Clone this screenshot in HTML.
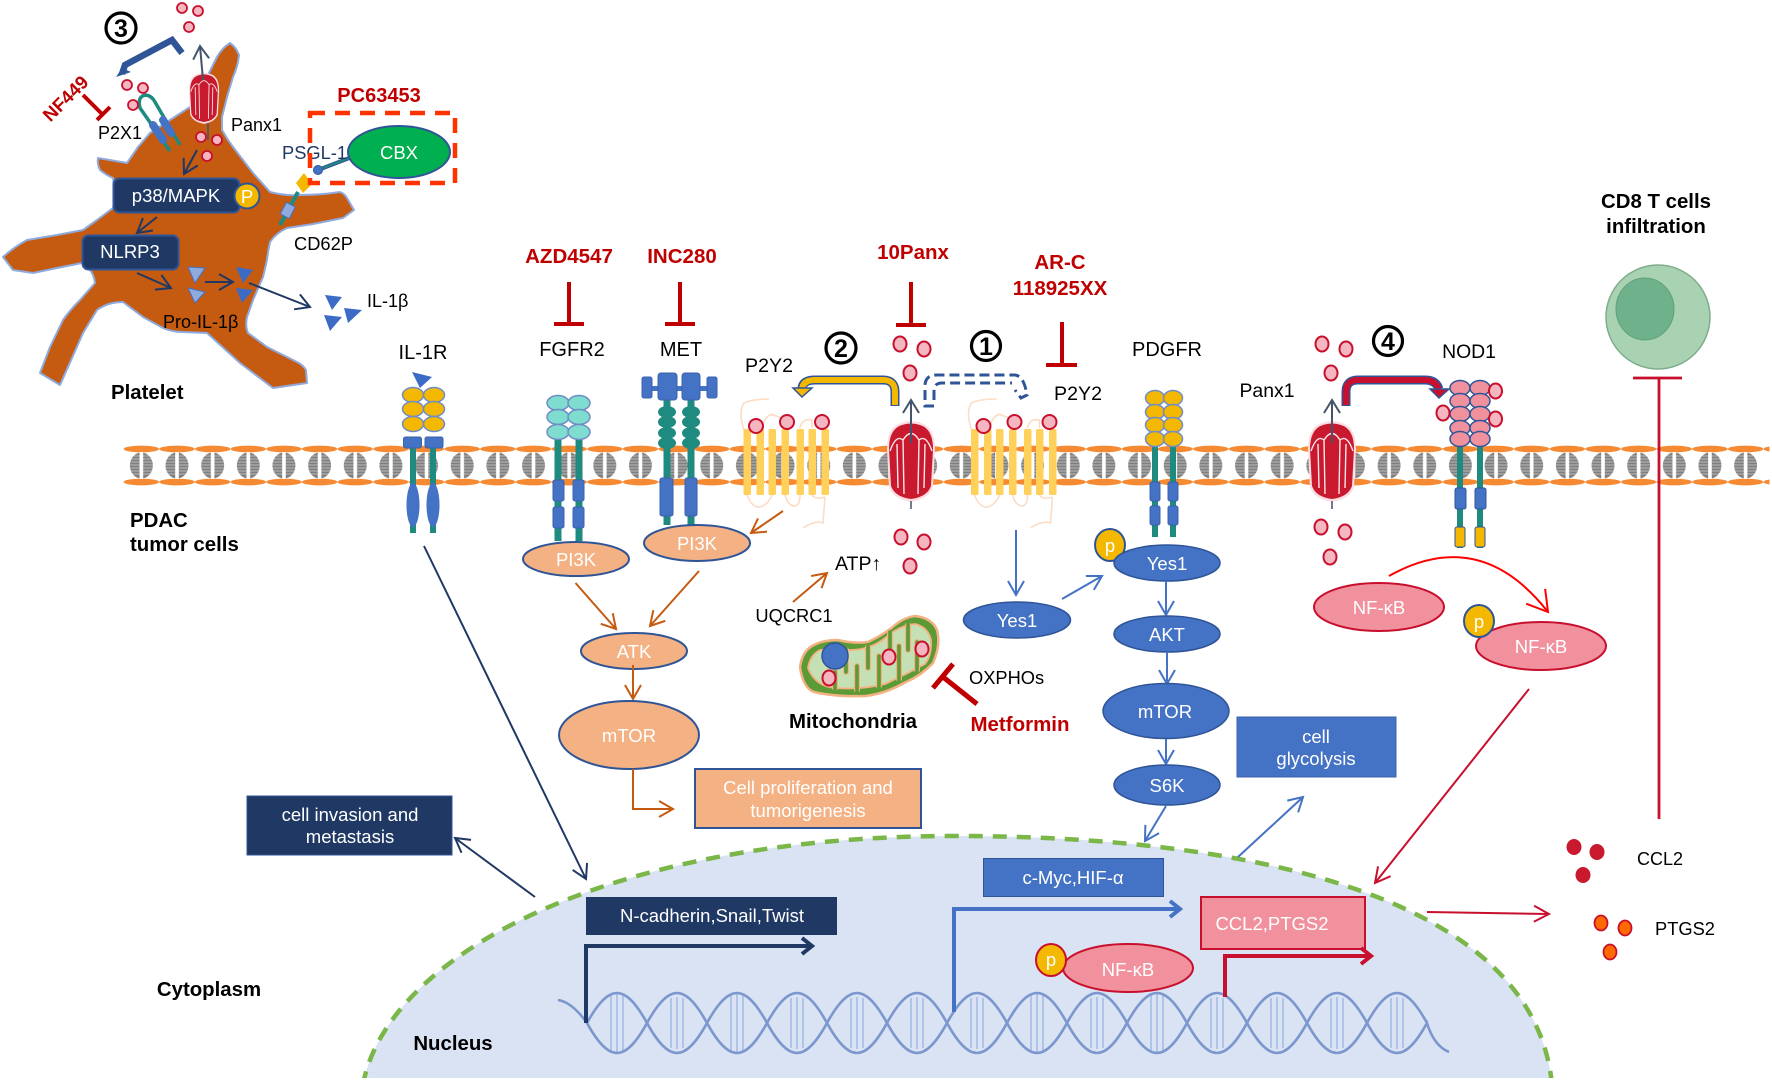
<!DOCTYPE html>
<html lang="en">
<head>
<meta charset="utf-8">
<title>Panx1 signalling in PDAC</title>
<style>
html,body{margin:0;padding:0;background:#fff}
svg{display:block}
text{font-family:"Liberation Sans",Arial,sans-serif;fill:#000}
.l20{font-size:20px}.l18{font-size:18.3px}
.w{fill:#fff;font-size:18.5px;text-anchor:middle}
.c{text-anchor:middle}
.b{font-weight:bold;font-size:20.4px}
.r{fill:#C00000;font-weight:bold;font-size:20.5px;text-anchor:middle}
.d{fill:#F4B6C0;stroke:#C8102E;stroke-width:2}
.ds{fill:#F4B6C0;stroke:#C8102E;stroke-width:1.8}
.be{fill:#4472C4;stroke:#2F5597;stroke-width:1.5}
.pe{fill:#F4B183;stroke:#2F5597;stroke-width:2}
.pi{fill:#F1919E;stroke:#C8102E;stroke-width:2}
.g{fill:#F4B800;stroke:#2F5597;stroke-width:2}
.teal{stroke:#1F8A80;stroke-width:7;fill:none}
.rb{fill:#4472C4;stroke:#3B63AE;stroke-width:1}
.ln{fill:none;stroke-width:2}
.T{fill:none;stroke:#C00000;stroke-width:4}
</style>
</head>
<body>
<svg xmlns="http://www.w3.org/2000/svg" width="1772" height="1080" viewBox="0 0 1772 1080">
<defs>
  <marker id="mn" markerUnits="userSpaceOnUse" viewBox="-20 -15 30 30" markerWidth="30" markerHeight="30" refX="0" refY="0" orient="auto"><path d="M-14,-8L0,0L-14,8" fill="none" stroke="#1F3864" stroke-width="2"/></marker>
  <marker id="mb" markerUnits="userSpaceOnUse" viewBox="-20 -15 30 30" markerWidth="30" markerHeight="30" refX="0" refY="0" orient="auto"><path d="M-14,-8L0,0L-14,8" fill="none" stroke="#4472C4" stroke-width="2"/></marker>
  <marker id="mo" markerUnits="userSpaceOnUse" viewBox="-20 -15 30 30" markerWidth="30" markerHeight="30" refX="0" refY="0" orient="auto"><path d="M-14,-8L0,0L-14,8" fill="none" stroke="#C55A11" stroke-width="2"/></marker>
  <marker id="mr" markerUnits="userSpaceOnUse" viewBox="-20 -15 30 30" markerWidth="30" markerHeight="30" refX="0" refY="0" orient="auto"><path d="M-15,-8L0,0L-15,8" fill="none" stroke="#C8102E" stroke-width="2"/></marker>
  <marker id="mf" markerUnits="userSpaceOnUse" viewBox="-25 -20 40 40" markerWidth="40" markerHeight="40" refX="0" refY="0" orient="auto"><path d="M-20,-12L0,0L-20,12" fill="none" stroke="#FF0000" stroke-width="2"/></marker>
  <marker id="mg" markerUnits="userSpaceOnUse" viewBox="-20 -15 30 30" markerWidth="30" markerHeight="30" refX="0" refY="0" orient="auto"><path d="M-13,-8L0,0L-13,8" fill="none" stroke="#44546A" stroke-width="2"/></marker>
  <marker id="mnt" markerUnits="userSpaceOnUse" viewBox="-20 -15 30 30" markerWidth="30" markerHeight="30" refX="0" refY="0" orient="auto"><path d="M-10,-8L0,0L-10,8" fill="none" stroke="#1F3864" stroke-width="4"/></marker>
  <marker id="mbt" markerUnits="userSpaceOnUse" viewBox="-20 -15 30 30" markerWidth="30" markerHeight="30" refX="0" refY="0" orient="auto"><path d="M-10,-8L0,0L-10,8" fill="none" stroke="#4472C4" stroke-width="4"/></marker>
  <marker id="mrt" markerUnits="userSpaceOnUse" viewBox="-20 -15 30 30" markerWidth="30" markerHeight="30" refX="0" refY="0" orient="auto"><path d="M-10,-8L0,0L-10,8" fill="none" stroke="#C8102E" stroke-width="4"/></marker>

  <pattern id="mem" patternUnits="userSpaceOnUse" x="123.55" y="440" width="35.65" height="50">
    <ellipse cx="17.8" cy="9" rx="17.8" ry="3.4" fill="#F58A33"/>
    <ellipse cx="17.8" cy="42" rx="17.8" ry="3.4" fill="#F58A33"/>
    <ellipse cx="17.8" cy="25.5" rx="11.5" ry="13" fill="#808080"/>
    <rect x="16" y="12" width="3.6" height="27" fill="#fff"/>
    <path d="M4,16H32M4,19H32M4,22H32M4,25H32M4,28H32M4,31H32M4,34H32" stroke="#fff" stroke-width="0.7" opacity="0.6"/>
  </pattern>

  <g id="chan">
    <path d="M-24,-12Q-24,-34 -10,-38Q0,-42 10,-38Q24,-34 24,-12L22,26Q18,38 0,41Q-18,38 -22,26Z" fill="#FBDDE2"/>
    <path d="M-22,-12Q-22,-32 -9,-36Q0,-39 9,-36Q22,-32 22,-12L20,25Q16,36 0,38Q-16,36 -20,25Z" fill="#C8192F"/>
    <path d="M-21,-10Q-15,-27 -8,-21L-7,33M21,-10Q15,-27 8,-21L7,33M-8,-21Q0,-34 8,-21M-14,-17L-13,27M14,-17L13,27" fill="none" stroke="#FBE6E8" stroke-width="1.4"/>
  </g>

  <g id="p2y2">
    <g fill="none" stroke="#FBDCC4" stroke-width="1.6">
      <path d="M769,399Q752,399 744,403Q738,412 744,430"/>
      <path d="M761,428Q768,410 776,416Q785,418 785,428"/>
      <path d="M800,428Q802,418 812,420V428"/>
      <path d="M747,495Q752,508 760,507Q768,505 772,495"/>
      <path d="M785,495Q788,506 795,506Q800,505 800,495"/>
      <path d="M812,495Q815,500 825,497"/>
      <path d="M825,497L823,523Q815,520 803,528"/>
    </g>
    <g fill="#FFD05A">
      <rect x="743.5" y="429" width="7.5" height="66" rx="1.5"/>
      <rect x="756.5" y="429" width="7.5" height="66" rx="1.5"/>
      <rect x="768.5" y="429" width="7.5" height="66" rx="1.5"/>
      <rect x="781.5" y="429" width="7.5" height="66" rx="1.5"/>
      <rect x="796.5" y="429" width="7.5" height="66" rx="1.5"/>
      <rect x="808.5" y="429" width="7.5" height="66" rx="1.5"/>
      <rect x="821.5" y="429" width="7.5" height="66" rx="1.5"/>
    </g>
    <ellipse class="d" cx="756" cy="426" rx="7" ry="7"/>
    <ellipse class="d" cx="787" cy="422" rx="7" ry="7"/>
    <ellipse class="d" cx="822" cy="422" rx="7" ry="7"/>
  </g>
</defs>

<rect width="1772" height="1080" fill="#fff"/>

<!-- Nucleus -->
<path d="M363,1085C385,960 600,836 955,836C1260,836 1535,900 1552,1085Z" fill="#DAE3F3" stroke="#7AB648" stroke-width="4.5" stroke-dasharray="14 10"/>
<rect x="0" y="1078" width="1772" height="2" fill="#fff"/>

<!-- DNA -->
<g stroke="#AFC4E8" stroke-width="2">
  <path d="M611,995V1051M617,993V1053M623,995V1051M671,998V1048M677,997V1049M683,998V1048M731,995V1051M737,993V1053M743,995V1051M791,998V1048M797,997V1049M803,998V1048M851,998V1048M857,997V1049M863,998V1048M911,998V1048M917,997V1049M923,998V1048M971,998V1048M977,997V1049M983,998V1048M1031,995V1051M1037,993V1053M1043,995V1051M1091,998V1048M1097,997V1049M1103,998V1048M1151,995V1051M1157,993V1053M1163,995V1051M1211,998V1048M1217,997V1049M1223,998V1048M1271,998V1048M1277,997V1049M1283,998V1048M1331,998V1048M1337,997V1049M1343,998V1048M1391,998V1048M1397,997V1049M1403,998V1048" fill="none"/>
</g>
<g fill="none" stroke="#7C97CE" stroke-width="2.6">
  <path d="M558,1000Q572,1002 587,1023c21.9,-40 38.1,-40 60,0c21.9,40 38.1,40 60,0c21.9,-40 38.1,-40 60,0c21.9,40 38.1,40 60,0c21.9,-40 38.1,-40 60,0c21.9,40 38.1,40 60,0c21.9,-40 38.1,-40 60,0c21.9,40 38.1,40 60,0c21.9,-40 38.1,-40 60,0c21.9,40 38.1,40 60,0c21.9,-40 38.1,-40 60,0c21.9,40 38.1,40 60,0c21.9,-40 38.1,-40 60,0c21.9,40 38.1,40 60,0Q1434,1046 1449,1052"/>
  <path d="M587,1023c21.9,40 38.1,40 60,0c21.9,-40 38.1,-40 60,0c21.9,40 38.1,40 60,0c21.9,-40 38.1,-40 60,0c21.9,40 38.1,40 60,0c21.9,-40 38.1,-40 60,0c21.9,40 38.1,40 60,0c21.9,-40 38.1,-40 60,0c21.9,40 38.1,40 60,0c21.9,-40 38.1,-40 60,0c21.9,40 38.1,40 60,0c21.9,-40 38.1,-40 60,0c21.9,40 38.1,40 60,0c21.9,-40 38.1,-40 60,0"/>
</g>

<!-- Nucleus boxes -->
<rect x="586" y="897" width="251" height="38" fill="#1F3864"/>
<text class="w" x="712" y="922">N-cadherin,Snail,Twist</text>
<rect x="983.5" y="858.5" width="180" height="38" fill="#4472C4" stroke="#2F5597"/>
<text class="w" x="1073" y="884">c-Myc,HIF-α</text>
<rect x="1201" y="897" width="164" height="52" fill="#F1919E" stroke="#C8102E" stroke-width="2"/>
<text class="w" x="1272" y="930">CCL2,PTGS2</text>
<path d="M586,1023V946H812" fill="none" stroke="#1F3864" stroke-width="4" marker-end="url(#mnt)"/>
<path d="M954,1012V909H1180" fill="none" stroke="#4472C4" stroke-width="4" marker-end="url(#mbt)"/>
<path d="M1225,997V956H1371" fill="none" stroke="#C8102E" stroke-width="4" marker-end="url(#mrt)"/>
<ellipse class="pi" cx="1128" cy="968" rx="65" ry="24"/>
<text class="w" x="1128" y="976">NF-κB</text>
<ellipse class="g" cx="1051" cy="960" rx="15" ry="16" style="stroke:#C8102E"/>
<text class="w" x="1051" y="966">p</text>

<!-- Membrane -->
<rect x="123.5" y="440" width="1646" height="50" fill="url(#mem)"/>

<!-- IL-1R -->
<g>
  <path class="teal" d="M413,448V533M433,448V533" style="stroke-width:6"/>
  <ellipse cx="413" cy="505" rx="6.5" ry="22" fill="#4472C4"/>
  <ellipse cx="433" cy="505" rx="6.5" ry="22" fill="#4472C4"/>
  <rect class="rb" x="403.5" y="437" width="18" height="11" rx="2"/>
  <rect class="rb" x="425" y="437" width="18" height="11" rx="2"/>
  <g fill="#F4B800" stroke="#6F8CC6" stroke-width="1.5">
    <ellipse cx="413" cy="395" rx="10.5" ry="7.5"/><ellipse cx="434" cy="395" rx="10.5" ry="7.5"/>
    <ellipse cx="413" cy="409" rx="10.5" ry="7.5"/><ellipse cx="434" cy="409" rx="10.5" ry="7.5"/>
    <ellipse cx="413" cy="424" rx="10.5" ry="7.5"/><ellipse cx="434" cy="424" rx="10.5" ry="7.5"/>
  </g>
  <polygon points="412,372 432,377 420,388" fill="#3B6BC4"/>
</g>

<!-- FGFR2 -->
<g>
  <path class="teal" d="M558,436V541M579,436V541"/>
  <rect class="rb" x="553" y="480" width="11" height="21" rx="2"/><rect class="rb" x="573" y="480" width="11" height="21" rx="2"/>
  <rect class="rb" x="553" y="507" width="11" height="21" rx="2"/><rect class="rb" x="573" y="507" width="11" height="21" rx="2"/>
  <g fill="#7FDDD0" stroke="#6F8CC6" stroke-width="1.5">
    <ellipse cx="558" cy="403" rx="11" ry="7.5"/><ellipse cx="579" cy="403" rx="11" ry="7.5"/>
    <ellipse cx="558" cy="417" rx="11" ry="7.5"/><ellipse cx="579" cy="417" rx="11" ry="7.5"/>
    <ellipse cx="558" cy="432" rx="11" ry="7.5"/><ellipse cx="579" cy="432" rx="11" ry="7.5"/>
  </g>
</g>

<!-- MET -->
<g>
  <path class="teal" d="M667,400V525M691,400V525"/>
  <rect x="652" y="386" width="55" height="5" fill="#4472C4"/>
  <rect class="rb" x="658" y="373" width="19" height="27" rx="3"/><rect class="rb" x="682" y="373" width="18" height="27" rx="3"/>
  <rect class="rb" x="642" y="377" width="10" height="21" rx="2"/><rect class="rb" x="707" y="377" width="10" height="21" rx="2"/>
  <g fill="#1F8A80">
    <ellipse cx="667" cy="412" rx="9" ry="6"/><ellipse cx="691" cy="412" rx="9" ry="6"/>
    <ellipse cx="667" cy="422" rx="9" ry="6"/><ellipse cx="691" cy="422" rx="9" ry="6"/>
    <ellipse cx="667" cy="433" rx="9" ry="6"/><ellipse cx="691" cy="433" rx="9" ry="6"/>
    <ellipse cx="667" cy="443" rx="9" ry="6"/><ellipse cx="691" cy="443" rx="9" ry="6"/>
  </g>
  <rect class="rb" x="660" y="478" width="13" height="38" rx="2"/><rect class="rb" x="685" y="478" width="12" height="38" rx="2"/>
</g>

<!-- P2Y2 -->
<use href="#p2y2"/>
<use href="#p2y2" transform="translate(227.5,0)"/>

<!-- PDGFR -->
<g>
  <path class="teal" d="M1155,445V537M1173,445V537" style="stroke-width:6"/>
  <rect class="rb" x="1150" y="482" width="10" height="19" rx="2"/><rect class="rb" x="1168" y="482" width="10" height="19" rx="2"/>
  <rect class="rb" x="1150" y="506" width="10" height="19" rx="2"/><rect class="rb" x="1168" y="506" width="10" height="19" rx="2"/>
  <g fill="#F4B800" stroke="#6F8CC6" stroke-width="1.5">
    <ellipse cx="1155" cy="398" rx="9.5" ry="7.5"/><ellipse cx="1173" cy="398" rx="9.5" ry="7.5"/>
    <ellipse cx="1155" cy="412" rx="9.5" ry="7.5"/><ellipse cx="1173" cy="412" rx="9.5" ry="7.5"/>
    <ellipse cx="1155" cy="425" rx="9.5" ry="7.5"/><ellipse cx="1173" cy="425" rx="9.5" ry="7.5"/>
    <ellipse cx="1155" cy="439" rx="9.5" ry="7.5"/><ellipse cx="1173" cy="439" rx="9.5" ry="7.5"/>
  </g>
</g>

<!-- NOD1 -->
<g>
  <path class="teal" d="M1460,445V548M1480,445V548" style="stroke-width:6"/>
  <rect class="rb" x="1455" y="488" width="11" height="21" rx="2" style="stroke:#2F5597"/><rect class="rb" x="1475" y="488" width="11" height="21" rx="2" style="stroke:#2F5597"/>
  <rect x="1455" y="527" width="10" height="20" rx="2" fill="#F4B800" stroke="#2F5597"/><rect x="1475" y="527" width="10" height="20" rx="2" fill="#F4B800" stroke="#2F5597"/>
  <g fill="#F1919E" stroke="#2F5597" stroke-width="1.5">
    <ellipse cx="1460" cy="388" rx="10" ry="7.5"/><ellipse cx="1480" cy="388" rx="10" ry="7.5"/>
    <ellipse cx="1460" cy="401" rx="10" ry="7.5"/><ellipse cx="1480" cy="401" rx="10" ry="7.5"/>
    <ellipse cx="1460" cy="414" rx="10" ry="7.5"/><ellipse cx="1480" cy="414" rx="10" ry="7.5"/>
    <ellipse cx="1460" cy="428" rx="10" ry="7.5"/><ellipse cx="1480" cy="428" rx="10" ry="7.5"/>
    <ellipse cx="1460" cy="439" rx="10" ry="7.5"/><ellipse cx="1480" cy="439" rx="10" ry="7.5"/>
  </g>
  <ellipse class="d" cx="1495.5" cy="391" rx="6.5" ry="7.5"/>
  <ellipse class="d" cx="1443" cy="413" rx="6.5" ry="7.5"/>
  <ellipse class="d" cx="1495.5" cy="419" rx="6.5" ry="7.5"/>
</g>

<!-- Panx1 channels -->
<use href="#chan" transform="translate(911,461)"/>
<use href="#chan" transform="translate(1332,461)"/>
<path d="M911,443V400" class="ln" stroke="#44546A" marker-end="url(#mg)"/>
<path d="M1332,443V400" class="ln" stroke="#44546A" marker-end="url(#mg)"/>
<path d="M911,501V509M1332,501V509" stroke="#44546A" stroke-width="1.5"/>

<!-- ATP dots -->
<ellipse class="d" cx="900" cy="344" rx="6.5" ry="7.5"/><ellipse class="d" cx="924" cy="349" rx="6.5" ry="7.5"/><ellipse class="d" cx="910" cy="373" rx="6.5" ry="7.5"/>
<ellipse class="d" cx="901" cy="537" rx="6.5" ry="7.5"/><ellipse class="d" cx="924" cy="542" rx="6.5" ry="7.5"/><ellipse class="d" cx="910" cy="566" rx="6.5" ry="7.5"/>
<ellipse class="d" cx="1322" cy="344" rx="6.5" ry="7.5"/><ellipse class="d" cx="1346" cy="349" rx="6.5" ry="7.5"/><ellipse class="d" cx="1331" cy="373" rx="6.5" ry="7.5"/>
<ellipse class="d" cx="1321" cy="527" rx="6.5" ry="7.5"/><ellipse class="d" cx="1345" cy="532" rx="6.5" ry="7.5"/><ellipse class="d" cx="1330" cy="557" rx="6.5" ry="7.5"/>

<!-- Fat arrows 2, 1, 4 -->
<path d="M895,406V392Q895,380 883,380H815Q803,380 802,388" fill="none" stroke="#2F5597" stroke-width="9"/>
<path d="M895,405V392Q895,380 883,380H815Q803,380 802,389" fill="none" stroke="#F4B800" stroke-width="6"/>
<polygon points="793,388 812,388 802,397" fill="#F4B800" stroke="#2F5597" stroke-width="1.5"/>
<path d="M934,406H925V386Q925,375 937,375H1015Q1024,376 1027,395L1021,398L1015,390M934,400V391Q934,383 942,383H1012" fill="none" stroke="#2F5597" stroke-width="3" stroke-dasharray="10 5"/>
<path d="M1346,406V392Q1346,380 1358,380H1425Q1436,380 1439,389" fill="none" stroke="#2F5597" stroke-width="9"/>
<path d="M1346,405V392Q1346,380 1358,380H1425Q1436,380 1439,390" fill="none" stroke="#C8102E" stroke-width="6"/>
<polygon points="1430,389 1449,389 1439,398" fill="#C8102E" stroke="#2F5597" stroke-width="1.5"/>

<!-- numbered circles -->
<g fill="#fff" stroke="#000" stroke-width="3.2">
  <circle cx="121" cy="28" r="15"/><circle cx="841" cy="348" r="15"/><circle cx="986" cy="346" r="14.5"/><circle cx="1388" cy="341" r="14.5"/>
</g>
<g font-weight="bold" font-size="25" text-anchor="middle">
  <text x="121" y="37">3</text><text x="841" y="357">2</text><text x="986" y="355">1</text><text x="1388" y="350">4</text>
</g>

<!-- Inhibitors -->
<path class="T" d="M569,282V324M554,324H584"/>
<path class="T" d="M680,282V324M665,324H695"/>
<path class="T" d="M911,282V325M896,325H926"/>
<path class="T" d="M1062,322V365M1046,365H1077"/>
<path d="M977,704L943,677M933,688L953,664" fill="none" stroke="#C00000" stroke-width="5"/>

<text class="r" x="569" y="263">AZD4547</text>
<text class="r" x="682" y="263">INC280</text>
<text class="r" x="913" y="259">10Panx</text>
<text class="r" x="1060" y="269">AR-C</text>
<text class="r" x="1060" y="295">118925XX</text>
<text class="r" x="1020" y="731">Metformin</text>

<!-- Labels -->
<text class="l20 c" x="423" y="359">IL-1R</text>
<text class="l20 c" x="572" y="356">FGFR2</text>
<text class="l20 c" x="681" y="356">MET</text>
<text class="l20 c" x="769" y="372" style="font-size:19.6px">P2Y2</text>
<text class="l20 c" x="1078" y="400" style="font-size:19.6px">P2Y2</text>
<text class="l20 c" x="1167" y="356">PDGFR</text>
<text class="l20 c" x="1267" y="397" style="font-size:19.4px">Panx1</text>
<text class="l20 c" x="1469" y="358" style="font-size:19.4px">NOD1</text>

<!-- PI3K / AKT orange pathway -->
<ellipse class="pe" cx="576" cy="559" rx="53" ry="17"/><text class="w" x="576" y="566">PI3K</text>
<ellipse class="pe" cx="697" cy="543" rx="53" ry="18"/><text class="w" x="697" y="550">PI3K</text>
<path class="ln" stroke="#C55A11" d="M783,511L751,533" marker-end="url(#mo)"/>
<path class="ln" stroke="#C55A11" d="M575.5,583L616,629" marker-end="url(#mo)"/>
<path class="ln" stroke="#C55A11" d="M699,571L650,626" marker-end="url(#mo)"/>
<ellipse class="pe" cx="634" cy="651" rx="53" ry="18"/><text class="w" x="634" y="658">ATK</text>
<path class="ln" stroke="#C55A11" d="M633,665V699" marker-end="url(#mo)"/>
<ellipse class="pe" cx="629" cy="735" rx="70" ry="34"/><text class="w" x="629" y="742">mTOR</text>
<path class="ln" stroke="#C55A11" d="M633,769V809H673" marker-end="url(#mo)"/>
<rect x="695" y="769" width="226" height="59" fill="#F4B183" stroke="#2F5597" stroke-width="2"/>
<text class="w" x="808" y="794">Cell proliferation and</text>
<text class="w" x="808" y="817">tumorigenesis</text>

<!-- ATP / mito -->
<text class="l20" x="835" y="570" style="font-size:19.5px">ATP↑</text>
<path class="ln" stroke="#C55A11" d="M793,602L827,573" marker-end="url(#mo)"/>
<text class="l18 c" x="794" y="622">UQCRC1</text>
<path d="M800,667Q802,652 812,646Q822,640 838,640Q855,644 868,642Q885,634 895,625Q905,617 915,616Q932,618 937,630Q941,645 933,663Q922,675 906,682Q885,694 865,696Q835,697 814,692Q803,688 800,667Z" fill="#5B9A34" stroke="#F4B183" stroke-width="2.5"/>
<path d="M808,668Q810,655 820,650Q835,648 850,650Q870,650 885,638Q900,625 915,624Q928,627 931,640Q932,655 925,664Q905,675 885,684Q860,690 835,688Q815,686 808,668Z" fill="#C5E0B4" stroke="#F4B183" stroke-width="1.8"/>
<g fill="none" stroke-linecap="round">
  <path d="M846,650V672M868,647V668M890,634V660M908,625V650M835,688V672M857,690V666M879,686V656M899,679V646M917,670V642" stroke="#F4B183" stroke-width="6"/>
  <path d="M846,648V672M868,645V668M890,632V660M908,623V650M835,690V672M857,692V666M879,688V656M899,681V646M917,672V642" stroke="#5B9A34" stroke-width="3.6"/>
</g>
<circle cx="835" cy="656" r="13" fill="#4472C4" stroke="#2F5597" stroke-width="1.5"/>
<ellipse class="d" cx="829" cy="678" rx="6.5" ry="7.5"/>
<ellipse class="d" cx="889" cy="657" rx="6.5" ry="7.5"/>
<ellipse class="d" cx="922" cy="649" rx="6.5" ry="7.5"/>
<text class="b c" x="853" y="728">Mitochondria</text>
<text class="l18" x="969" y="684">OXPHOs</text>

<!-- Blue pathway -->
<path class="ln" stroke="#4472C4" d="M1016,530V595" marker-end="url(#mb)"/>
<path class="ln" stroke="#4472C4" d="M1062,599L1102,576" marker-end="url(#mb)"/>
<ellipse class="be" cx="1017" cy="620" rx="53.5" ry="18"/><text class="w" x="1017" y="627">Yes1</text>
<ellipse class="g" cx="1110" cy="545" rx="15" ry="16"/><text class="w" x="1110" y="552">p</text>
<ellipse class="be" cx="1167" cy="563" rx="53" ry="18"/><text class="w" x="1167" y="570">Yes1</text>
<path class="ln" stroke="#4472C4" d="M1166,581V615" marker-end="url(#mb)"/>
<ellipse class="be" cx="1167" cy="634" rx="53" ry="18"/><text class="w" x="1167" y="641">AKT</text>
<path class="ln" stroke="#4472C4" d="M1167,653V684" marker-end="url(#mb)"/>
<ellipse class="be" cx="1166" cy="711" rx="63" ry="27.5"/><text class="w" x="1165" y="718">mTOR</text>
<path class="ln" stroke="#4472C4" d="M1166,739V764" marker-end="url(#mb)"/>
<ellipse class="be" cx="1167" cy="785" rx="53" ry="20"/><text class="w" x="1167" y="792">S6K</text>
<path class="ln" stroke="#4472C4" d="M1166,806L1145,841" marker-end="url(#mb)"/>
<rect x="1237" y="717" width="159" height="60" fill="#4472C4" stroke="#3B63AE"/>
<text class="w" x="1316" y="743">cell</text>
<text class="w" x="1316" y="765">glycolysis</text>
<path class="ln" stroke="#4472C4" d="M1238,857L1303,797" marker-end="url(#mb)"/>

<!-- NF-kB -->
<ellipse class="pi" cx="1379" cy="607" rx="65" ry="24"/><text class="w" x="1379" y="614">NF-κB</text>
<ellipse class="pi" cx="1541" cy="646" rx="65" ry="24"/><text class="w" x="1541" y="653">NF-κB</text>
<ellipse class="g" cx="1479" cy="621" rx="15" ry="16"/><text class="w" x="1479" y="628">p</text>
<path class="ln" stroke="#FF0000" d="M1389,576Q1480,525 1548,612" marker-end="url(#mf)"/>
<path class="ln" stroke="#C8102E" d="M1529,689L1375,883" marker-end="url(#mr)"/>
<path class="ln" stroke="#C8102E" d="M1427,912L1549,914" marker-end="url(#mr)"/>

<!-- Navy arrows -->
<path class="ln" stroke="#1F3864" d="M424,546L586,879" marker-end="url(#mn)"/>
<path class="ln" stroke="#1F3864" d="M535,897L455,838" marker-end="url(#mn)"/>
<rect x="247" y="796" width="205" height="59" fill="#1F3864" stroke="#2F5597"/>
<text class="w" x="350" y="821">cell invasion and</text>
<text class="w" x="350" y="843">metastasis</text>

<text class="b" x="130" y="527">PDAC</text>
<text class="b" x="130" y="551">tumor cells</text>
<text class="b c" x="209" y="996">Cytoplasm</text>
<text class="b c" x="453" y="1050">Nucleus</text>

<!-- T cell -->
<text class="b c" x="1656" y="208">CD8 T cells</text>
<text class="b c" x="1656" y="233">infiltration</text>
<circle cx="1658" cy="317" r="52" fill="#A9D2B3" stroke="#7EAD8A" stroke-width="1.5"/>
<ellipse cx="1645" cy="309" rx="29" ry="31" fill="#6FB18A" stroke="#5FA07A" stroke-width="1"/>
<path d="M1633,378H1682M1659,378V819" fill="none" stroke="#C8102E" stroke-width="2.8"/>

<!-- CCL2 / PTGS2 -->
<g fill="#C8192F">
  <ellipse cx="1574" cy="847" rx="7.5" ry="8"/><ellipse cx="1597" cy="852" rx="7.5" ry="8"/><ellipse cx="1583" cy="875" rx="7.5" ry="8"/>
</g>
<text class="l18" x="1637" y="865" style="font-size:18px">CCL2</text>
<g fill="#FF6A00" stroke="#C8102E" stroke-width="1.8">
  <ellipse cx="1601" cy="923" rx="6.5" ry="7.5"/><ellipse cx="1625" cy="928" rx="6.5" ry="7.5"/><ellipse cx="1610" cy="952" rx="6.5" ry="7.5"/>
</g>
<text class="l18" x="1655" y="935">PTGS2</text>

<!-- Platelet -->
<path d="M230,43Q236,47 239,55Q238,66 233,77L227,97L222,117V130Q227,139 233,147L253,173L270,192Q285,196 300,195Q320,195 340,192Q345,194 347,198L354,210L343,218L313,224L287,228Q276,233 270,242Q268,251 267,260L263,277L253,300L247,317Q245,326 248,333L267,347L297,362Q303,365 306,370L307,383L273,388L240,363L207,333L183,332Q172,332 163,328L143,317L123,302Q108,302 97,310L83,333L72,358L60,385L40,373L50,347L63,320Q70,310 80,300L95,283Q94,275 90,270L82,263L57,268L33,273L13,270L3,257Q14,247 27,240L57,235L83,230L97,220L113,208Q116,200 115,193L113,178Q106,175 100,170Q97,164 98,158L127,163L138,147L150,133L170,120L190,107L200,90L207,77L217,57Q222,48 230,43Z" fill="#C55A11" stroke="#8FAADC" stroke-width="2" stroke-linejoin="round"/>

<!-- P2X1 -->
<path d="M170,151L140,108Q137,96 146,95Q152,96 155,102L180,145" fill="none" stroke="#1F8A80" stroke-width="3.5"/>
<line x1="153" y1="125" x2="163" y2="140" stroke="#4472C4" stroke-width="8" stroke-linecap="round"/>
<line x1="163" y1="120" x2="171" y2="133" stroke="#4472C4" stroke-width="8" stroke-linecap="round"/>

<!-- platelet channel -->
<use href="#chan" transform="translate(204,98) scale(0.63)"/>
<path class="ln" stroke="#44546A" d="M203,80L200,46" marker-end="url(#mg)"/>
<path d="M208,123V140" stroke="#44546A" stroke-width="1.5"/>

<g>
  <circle class="ds" cx="182" cy="8" r="5"/><circle class="ds" cx="198" cy="11" r="5"/><circle class="ds" cx="189" cy="27" r="5"/>
  <circle class="ds" cx="127" cy="85" r="5"/><circle class="ds" cx="143" cy="88" r="5"/><circle class="ds" cx="133" cy="105" r="5"/>
  <circle class="ds" cx="201" cy="137" r="5"/><circle class="ds" cx="217" cy="140" r="5"/><circle class="ds" cx="207" cy="156" r="5"/>
</g>

<path d="M182,53L172,40L125,65L122,74" fill="none" stroke="#2F5597" stroke-width="6.5"/>
<polygon points="116,77 131,72 122,68" fill="#2F5597"/>

<path d="M83,95L103,115M97,120L110,107" fill="none" stroke="#C00000" stroke-width="4"/>
<text class="r" transform="translate(70,103) rotate(-45)" text-anchor="middle" style="font-size:18.5px">NF449</text>
<text class="l18" x="98" y="139" style="font-size:18px">P2X1</text>
<text class="l18" x="231" y="131" style="font-size:18px">Panx1</text>

<rect x="113.5" y="178.5" width="126" height="34" rx="6" fill="#1F3864" stroke="#2F5597" stroke-width="2"/>
<text class="w" x="176" y="202">p38/MAPK</text>
<circle class="g" cx="247" cy="196" r="12.5"/>
<text class="w" x="247" y="203">P</text>
<rect x="82.5" y="235.5" width="96" height="34" rx="6" fill="#1F3864" stroke="#2F5597" stroke-width="2"/>
<text class="w" x="130" y="258">NLRP3</text>

<path class="ln" stroke="#1F3864" d="M197,150L184,174" marker-end="url(#mn)"/>
<path class="ln" stroke="#1F3864" d="M157,217L137,233" marker-end="url(#mn)"/>
<path class="ln" stroke="#1F3864" d="M137,273L171,288" marker-end="url(#mn)"/>
<path class="ln" stroke="#1F3864" d="M205,282H233" marker-end="url(#mn)"/>
<path class="ln" stroke="#1F3864" d="M249,283L310,307" marker-end="url(#mn)"/>

<g fill="#8FAADC" stroke="#4472C4" stroke-width="1">
  <polygon points="188,267 205,268 195,283"/><polygon points="188,288 205,292 195,303"/>
</g>
<g fill="#3B6BC4">
  <polygon points="236,267 253,270 243,283"/><polygon points="236,288 253,290 242,303"/>
  <polygon points="325,295 342,297 332,310"/><polygon points="344,308 362,310 348,323"/><polygon points="324,315 342,317 330,331"/>
</g>
<text class="l18" x="163" y="328" style="font-size:18px">Pro-IL-1β</text>
<text class="l18" x="367" y="307" style="font-size:18px">IL-1β</text>
<text class="b" x="111" y="399">Platelet</text>

<!-- CD62P / PSGL / CBX -->
<line x1="280" y1="225" x2="298" y2="192" stroke="#1F8A80" stroke-width="4"/>
<rect x="283" y="204" width="10" height="13" transform="rotate(28 288 210)" fill="#8FAADC" stroke="#4472C4"/>
<polygon points="304,173 312,184 303,193 296,183" fill="#F4B800"/>
<text class="l18" x="294" y="250">CD62P</text>
<line x1="318" y1="170" x2="352" y2="157" stroke="#2F5597" stroke-width="4"/>
<line x1="318" y1="170" x2="352" y2="157" stroke="#1F8A80" stroke-width="2"/>
<circle cx="318" cy="170" r="4.5" fill="#4472C4" stroke="#2F5597"/>
<text class="l18" x="282" y="159" style="fill:#1F3864">PSGL-1</text>
<ellipse cx="399" cy="152" rx="51" ry="26" fill="#00B050" stroke="#2F5597" stroke-width="2"/>
<text class="w" x="399" y="159">CBX</text>
<rect x="310" y="113" width="145" height="70" fill="none" stroke="#FF3300" stroke-width="4.5" stroke-dasharray="15 10"/>
<text class="r" x="379" y="102" style="font-size:20px">PC63453</text>
</svg>
</body>
</html>
